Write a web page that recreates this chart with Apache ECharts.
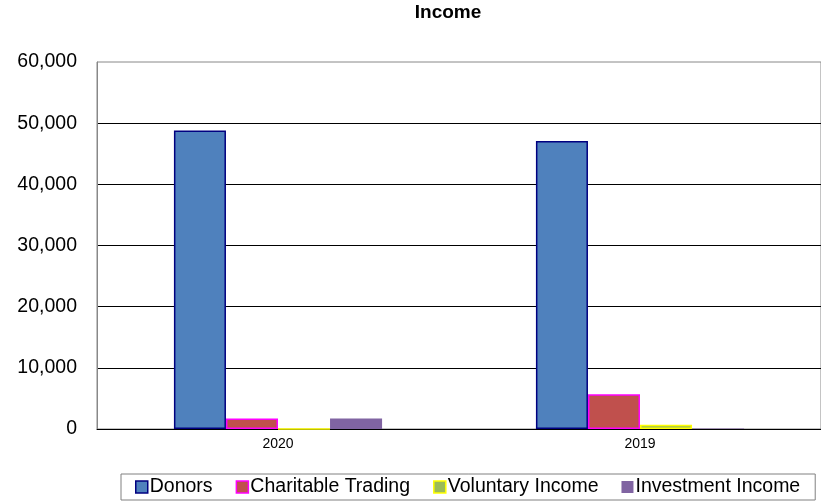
<!DOCTYPE html>
<html>
<head>
<meta charset="utf-8">
<script src="https://cdn.jsdelivr.net/npm/echarts@6/dist/echarts.min.js"></script>
<style>
  html, body { margin: 0; padding: 0; background: #fff; }
  #chart { width: 821px; height: 501px; }
</style>
</head>
<body>
<div id="chart"></div>
<script>
const years = ['2020', '2019']
const donors = [48800, 47100]
const charitableTrading = [1700, 5700]
const voluntaryIncome = [0, 700]
const investmentIncome = [1700, 100]
const yTicks = [0, 10000, 20000, 30000, 40000, 50000, 60000]

const chart = echarts.init(document.getElementById('chart'))

function bar(name, data, color, border) {
  return {
    name: name,
    type: 'bar',
    data: data,
    barGap: '0%',
    barCategoryGap: '42.5%',
    itemStyle: {
      color: color,
      borderColor: border || color,
      borderWidth: border ? 1.5 : 0
    },
    emphasis: { disabled: true }
  }
}

chart.setOption({
  animation: false,
  textStyle: { fontFamily: 'Liberation Sans, Arial, sans-serif' },
  title: {
    text: 'Income',
    left: 448,
    textAlign: 'center',
    top: 3,
    padding: 0,
    textStyle: { fontSize: 19, fontWeight: 'bold', color: '#000' }
  },
  grid: {
    left: 97,
    right: 0,
    top: 62,
    bottom: 72,
    show: true,
    borderColor: '#888',
    borderWidth: 1
  },
  legend: {
    left: 121,
    top: 474,
    icon: 'rect',
    itemWidth: 12,
    itemHeight: 12,
    itemGap: 23,
    padding: [3, 15, 3, 14],
    borderColor: '#808080',
    borderWidth: 1,
    textStyle: { fontSize: 19.5, color: '#000', padding: [0, 0, 0, -3] },
    data: [
      { name: 'Donors', itemStyle: { color: '#4F81BD', borderColor: '#000080', borderWidth: 1.5 } },
      { name: 'Charitable Trading', itemStyle: { color: '#C0504D', borderColor: '#FF00FF', borderWidth: 1.5 } },
      { name: 'Voluntary Income', itemStyle: { color: '#9BBB59', borderColor: '#FFFF00', borderWidth: 1.5 } },
      { name: 'Investment Income', itemStyle: { color: '#8064A2', borderWidth: 0 } }
    ]
  },
  xAxis: {
    type: 'category',
    data: years,
    axisLine: { lineStyle: { color: '#000', width: 1 } },
    axisTick: { show: false },
    axisLabel: { fontSize: 14, color: '#000', margin: 8 },
    splitLine: { show: false }
  },
  yAxis: {
    type: 'value',
    min: yTicks[0],
    max: yTicks[yTicks.length - 1],
    interval: 10000,
    axisLine: { show: true, lineStyle: { color: '#888' } },
    axisTick: { show: false },
    axisLabel: {
      fontSize: 19.5,
      color: '#000',
      margin: 20,
      formatter: v => v.toLocaleString('en-US')
    },
    splitLine: { show: true, showMinLine: false, showMaxLine: false, lineStyle: { color: '#000', width: 1 } }
  },
  series: [
    bar('Donors', donors, '#4F81BD', '#000080'),
    bar('Charitable Trading', charitableTrading, '#C0504D', '#FF00FF'),
    bar('Voluntary Income', voluntaryIncome, '#9BBB59', '#FFFF00'),
    bar('Investment Income', investmentIncome, '#8064A2', null)
  ]
})
</script>
</body>
</html>
